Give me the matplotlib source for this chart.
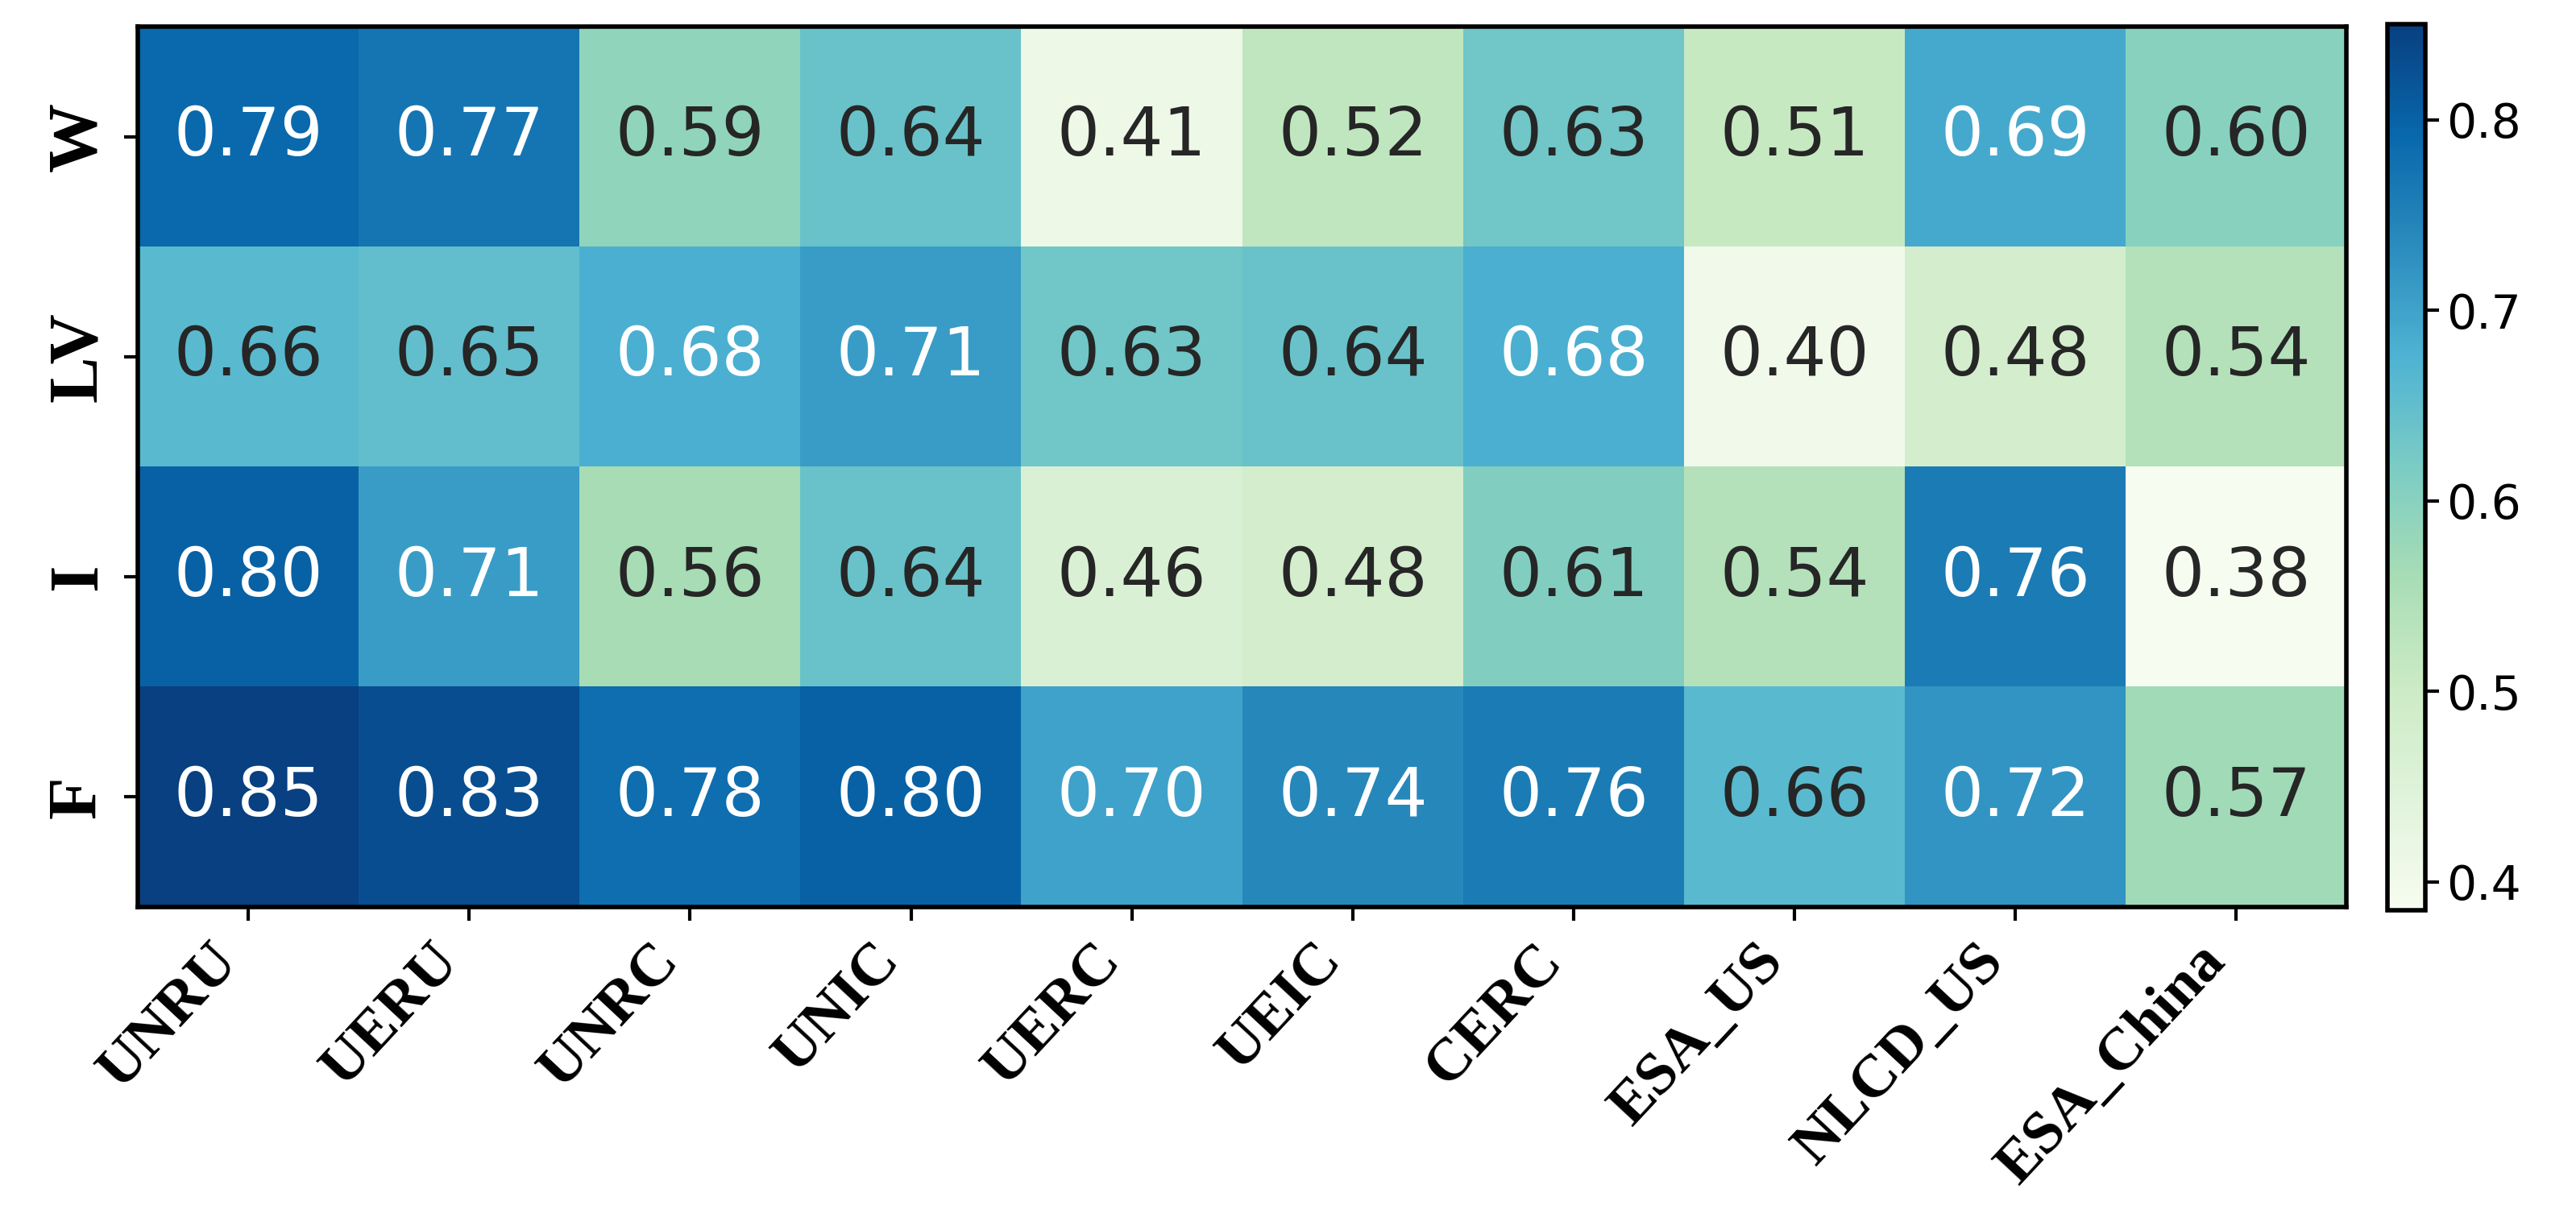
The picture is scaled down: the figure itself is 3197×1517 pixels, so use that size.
import matplotlib
matplotlib.use("Agg")
import matplotlib.pyplot as plt
import numpy as np

# --- Daten ---
rows = ["W", "LV", "I", "F"]
cols = ["UNRU", "UERU", "UNRC", "UNIC", "UERC", "UEIC", "CERC", "ESA_US", "NLCD_US", "ESA_China"]
w_vals = [0.79, 0.77, 0.59, 0.64, 0.41, 0.52, 0.63, 0.51, 0.69, 0.60]
lv_vals = [0.66, 0.65, 0.68, 0.71, 0.63, 0.64, 0.68, 0.40, 0.48, 0.54]
i_vals = [0.80, 0.71, 0.56, 0.64, 0.46, 0.48, 0.61, 0.54, 0.76, 0.38]
f_vals = [0.85, 0.83, 0.78, 0.80, 0.70, 0.74, 0.76, 0.66, 0.72, 0.57]
cbar_ticks = [0.4, 0.5, 0.6, 0.7, 0.8]

data = np.array([w_vals, lv_vals, i_vals, f_vals])

fig = plt.figure(figsize=(15.985, 7.585), dpi=200)
ax = fig.add_axes([0.0535, 0.2577, 0.8575, 0.7205])
cax = fig.add_axes([0.9268, 0.255, 0.0147, 0.725])

im = ax.imshow(data, cmap="GnBu", vmin=0.385, vmax=0.85, aspect="auto")

# Werte in die Zellen
for r in range(data.shape[0]):
    for c in range(data.shape[1]):
        v = data[r, c]
        color = "white" if v > 0.67 else "#262626"
        ax.text(c, r, f"{v:.2f}", ha="center", va="center", fontsize=30, color=color)

ax.set_xticks(range(len(cols)))
ax.set_yticks(range(len(rows)))
ax.set_xticklabels(cols, rotation=47, ha="right", family="Liberation Serif",
                   fontweight="bold", fontsize=27)
ax.set_yticklabels(rows, rotation=90, va="center", family="Liberation Serif",
                   fontweight="bold", fontsize=31)
ax.tick_params(length=6, width=1.5, pad=6)
for s in ax.spines.values():
    s.set_linewidth(2)

cb = fig.colorbar(im, cax=cax, ticks=cbar_ticks)
cb.ax.tick_params(labelsize=21, length=6, width=1.5)
cb.outline.set_linewidth(2)

fig.savefig("out.png", dpi=200)
